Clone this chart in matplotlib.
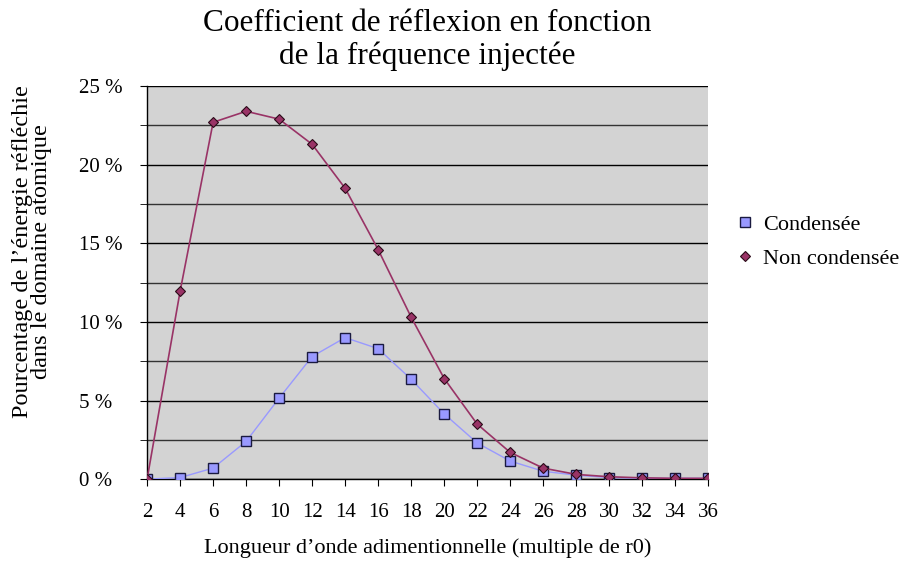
import matplotlib
matplotlib.use("Agg")
import matplotlib.pyplot as plt
from matplotlib.ticker import MultipleLocator, FuncFormatter

plt.rcParams['font.family'] = ['Liberation Serif', 'DejaVu Serif']

# Wavelength (multiple of r0)
longueur = [2, 4, 6, 8, 10, 12, 14, 16, 18, 20, 22, 24, 26, 28, 30, 32, 34, 36]

# Reflected energy (%)
condensee = [0.0, 0.1, 0.7, 2.4, 5.15, 7.8, 9.0, 8.3, 6.35, 4.15, 2.3, 1.15,
             0.5, 0.25, 0.1, 0.05, 0.05, 0.05]
non_condensee = [0.0, 11.95, 22.7, 23.4, 22.9, 21.3, 18.5, 14.6, 10.3, 6.4, 3.5,
                 1.7, 0.7, 0.3, 0.15, 0.08, 0.05, 0.05]

fig = plt.figure(figsize=(9.08, 5.63), dpi=100)
ax = fig.add_axes([0.162, 0.149, 0.618, 0.698])
ax.set_facecolor('#d3d3d3')

# Horizontal grid every 2.5 %
ax.yaxis.set_major_locator(MultipleLocator(5))
ax.yaxis.set_minor_locator(MultipleLocator(2.5))
ax.grid(True, axis='y', which='major', color='black', linewidth=1.0)
ax.grid(True, axis='y', which='minor', color='#333333', linewidth=1.0)
ax.set_axisbelow(True)

ax.plot(longueur, condensee, color='#9999ff', linewidth=1.0, marker='s',
        markersize=7.5, markerfacecolor='#9999ff', markeredgecolor='#1a1a40',
        markeredgewidth=1.0, label='Condensée', zorder=3)
ax.plot(longueur, non_condensee, color='#993366', linewidth=1.2, marker='D',
        markersize=5.5, markerfacecolor='#993366', markeredgecolor='#2a0a18',
        markeredgewidth=0.8, label='Non condensée', zorder=4)

ax.set_xlim(2, 36)
ax.set_ylim(0, 25)
ax.set_xticks(longueur)
ax.yaxis.set_major_formatter(FuncFormatter(lambda v, p: f"{v:.0f} %"))
ax.tick_params(axis='both', which='both', direction='out', length=5,
               color='black', labelsize=15)
ax.tick_params(axis='y', which='minor', labelleft=False)
ax.tick_params(axis='x', pad=12)
# y labels are left aligned in a column
ax.tick_params(axis='y', pad=44)
for lbl in ax.get_yticklabels():
    lbl.set_horizontalalignment('left')
    lbl.set_verticalalignment('center_baseline')

for side in ['top', 'right']:
    ax.spines[side].set_visible(False)
for side in ['left', 'bottom']:
    ax.spines[side].set_color('black')
    ax.spines[side].set_linewidth(1.0)

ax.set_title("Coefficient de réflexion en fonction\nde la fréquence injectée",
             fontsize=22.5, linespacing=1.15, pad=16)
ax.set_xlabel("Longueur d’onde adimentionnelle (multiple de r0)",
              fontsize=16, labelpad=12)
fig.text(32 / 908, 1 - 252 / 563,
         "Pourcentage de l’énergie réfléchie\ndans le domaine atomique",
         fontsize=17.5, linespacing=0.85, rotation=90,
         ha='center', va='center', multialignment='center')

leg = ax.legend(loc='upper left', bbox_to_anchor=(1.035, 0.697), frameon=False,
                fontsize=16, handlelength=0.7, handletextpad=0.5,
                labelspacing=0.6, borderaxespad=0)
for h in leg.legend_handles:
    h.set_linestyle('None')

fig.savefig('out.png', dpi=100)
